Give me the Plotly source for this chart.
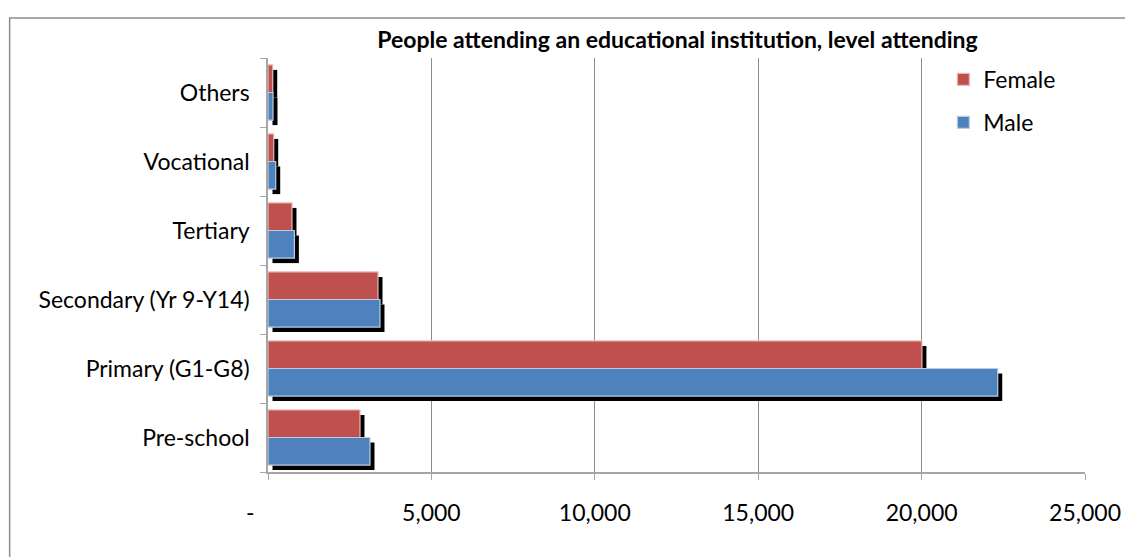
import plotly.graph_objects as go

# ---- data ----
categories = ["Pre-school", "Primary (G1-G8)", "Secondary (Yr 9-Y14)",
              "Tertiary", "Vocational", "Others"]
female = [2815, 20010, 3366, 734, 175, 145]
male = [3121, 22330, 3427, 808, 236, 153]
x_tickvals = [0, 5000, 10000, 15000, 20000, 25000]
x_ticktext = ["-\u00a0\u00a0\u00a0\u00a0\u00a0\u00a0", "5,000", "10,000", "15,000", "20,000", "25,000"]
title_text = "People attending an educational institution, level attending"

# ---- style / geometry (page body has an 8px margin) ----
OFF = 8
W, H = 1133 - OFF, 557 - OFF
ML, MR, MT, MB = 268 - OFF, 1133 - 1087, 58 - OFF, 557 - 472
PW = W - ML - MR           # plot width px
PH = H - MT - MB           # plot height px
XMAX = 25000
CAT_PX = PH / len(categories)
SHADOW_DX = 4.5 * XMAX / PW          # shadow shift right (data units)
SHADOW_DY = 5 / CAT_PX               # shadow shift down (category units)
BW = 0.4
FONT = "Lato"
FS = 23
F_COL, F_EDGE = "#C0504D", "#E6B9B8"
M_COL, M_EDGE = "#4F81BD", "#B9CDE5"

fig = go.Figure()

# shadows
for vals, off in [(female, 0.0), (male, -BW)]:
    fig.add_trace(go.Bar(
        y=categories, x=vals, base=SHADOW_DX, orientation="h",
        width=BW, offset=off - SHADOW_DY,
        marker=dict(color="black", line=dict(width=0)),
        showlegend=False, hoverinfo="skip"))

# main bars
fig.add_trace(go.Bar(
    y=categories, x=female, orientation="h", name="Female",
    width=BW, offset=0.0, legendgroup="f",
    marker=dict(color=F_COL, line=dict(color=F_EDGE, width=1.2))))
fig.add_trace(go.Bar(
    y=categories, x=male, orientation="h", name="Male",
    width=BW, offset=-BW, legendgroup="m",
    marker=dict(color=M_COL, line=dict(color=M_EDGE, width=1.2))))

# outer frame
fig.add_shape(type="rect", xref="paper", yref="paper",
              x0=(1 - ML) / PW, x1=(W + 20 - ML) / PW,
              y0=-(H + 20 - (H - MB)) / PH, y1=1 + (MT - 10) / PH,
              line=dict(color="#8C8C8C", width=1.5), fillcolor="rgba(0,0,0,0)",
              layer="below")

fig.update_layout(
    width=W, height=H,
    margin=dict(l=ML, r=MR, t=MT, b=MB, pad=0),
    paper_bgcolor="white", plot_bgcolor="white",
    barmode="overlay",
    font=dict(family=FONT, size=FS, color="black"),
    title=dict(text="<b>" + title_text + "</b>", x=(ML + PW / 2) / W, xanchor="center",
               xref="container", yref="container", y=1 - 32 / H, yanchor="middle",
               font=dict(family=FONT, size=23, color="black")),
    showlegend=True,
    legend=dict(x=0.8266, y=1.0, xanchor="left", yanchor="top",
                traceorder="grouped", tracegroupgap=10,
                font=dict(family=FONT, size=FS, color="black"),
                bgcolor="rgba(0,0,0,0)"),
    xaxis=dict(range=[0, XMAX], tickvals=x_tickvals, ticktext=x_ticktext,
               showgrid=True, gridcolor="#8C8C8C", gridwidth=1,
               showline=True, linecolor="#A6A6A6", linewidth=1.5,
               ticks="outside", ticklen=6, tickcolor="#A6A6A6",
               ticklabelstandoff=14, zeroline=False,
               tickfont=dict(family=FONT, size=FS, color="black")),
    yaxis=dict(type="category", categoryorder="array", categoryarray=categories,
               range=[-0.5, len(categories) - 0.5],
               showgrid=False, showline=True, linecolor="#A6A6A6", linewidth=1.5,
               ticks="outside", ticklen=6, tickcolor="#A6A6A6", tickson="boundaries",
               ticklabelstandoff=12,
               tickfont=dict(family=FONT, size=FS, color="black")),
)

fig.write_html("out.html")
